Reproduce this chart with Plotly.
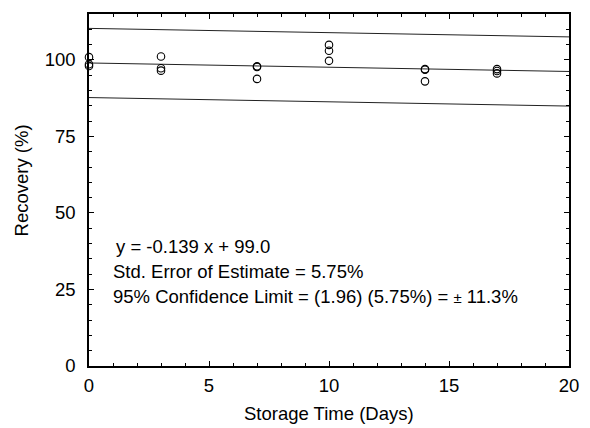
import plotly.graph_objects as go

# Data
days = [0, 0, 0, 3, 3, 3, 7, 7, 7, 10, 10, 10, 14, 14, 14, 17, 17, 17]
recovery = [100.9, 98.6, 98.0, 101.1, 97.3, 96.5, 97.9, 97.7, 93.8,
            104.9, 103.0, 99.7, 97.0, 96.8, 93.0, 97.0, 96.4, 95.6]
slope = -0.139
intercept = 99.0
conf_limit = 11.3
line_x = [0, 20]
x_ticks = [0, 5, 10, 15, 20]
y_ticks = [0, 25, 50, 75, 100]

fit_y = [slope * x + intercept for x in line_x]
upper_y = [v + conf_limit for v in fit_y]
lower_y = [v - conf_limit for v in fit_y]

FONT = "Liberation Sans, Arial, sans-serif"
fig = go.Figure()
for ys in (upper_y, fit_y, lower_y):
    fig.add_trace(go.Scatter(x=line_x, y=ys, mode="lines",
                             line=dict(color="#222222", width=1),
                             showlegend=False, hoverinfo="skip"))
fig.add_trace(go.Scatter(x=days, y=recovery, mode="markers",
                         marker=dict(symbol="circle-open", size=7.5, color="black",
                                     line=dict(width=1.1, color="black")),
                         cliponaxis=False, showlegend=False))

W, H = 590, 428
ml, mr, mt, mb = 89, 11, 14, 62
pw, ph = W - ml - mr, H - mt - mb

axis_common = dict(showgrid=False, zeroline=False, showline=True, linecolor="black",
                   linewidth=1.5, mirror="allticks", ticks="inside", ticklen=5,
                   tickwidth=1, tickcolor="black",
                   tickfont=dict(family=FONT, size=18.5, color="black"))
fig.update_xaxes(range=[0, 20], tickvals=x_ticks, ticklabelstandoff=2,
                 minor=dict(dtick=1, ticks="inside", ticklen=3, tickcolor="black", tickwidth=1),
                 **axis_common)
fig.update_yaxes(range=[0, 115], tickvals=y_ticks, ticklabelstandoff=8,
                 minor=dict(dtick=5, ticks="inside", ticklen=3, tickcolor="black", tickwidth=1),
                 **axis_common)

def px_x(px):
    return (px - ml) / pw

def px_y(py):
    return (H - mb - py) / ph

ann_font = dict(family=FONT, size=18.5, color="black")
texts = [
    ("y = -0.139 x + 99.0", 115, 247),
    ("Std. Error of Estimate = 5.75%", 111.5, 271),
    ("95% Confidence Limit = (1.96) (5.75%) = <span style='font-size:15px'>±</span> 11.3%", 111.5, 296),
]
for t, x, y in texts:
    fig.add_annotation(text=t, xref="paper", yref="paper", x=px_x(x), y=px_y(y),
                       xanchor="left", yanchor="middle", showarrow=False, font=ann_font)

fig.add_annotation(text="Recovery (%)", xref="paper", yref="paper", x=px_x(20), y=px_y(180),
                   xanchor="center", yanchor="middle", textangle=-90, showarrow=False, font=ann_font)
fig.add_annotation(text="Storage Time (Days)", xref="paper", yref="paper", x=px_x(334), y=px_y(413),
                   xanchor="center", yanchor="middle", showarrow=False, font=ann_font)

fig.update_layout(width=W, height=H, margin=dict(l=ml, r=mr, t=mt, b=mb),
                  plot_bgcolor="white", paper_bgcolor="white",
                  font=dict(family=FONT, size=18.5, color="black"))
fig.write_html("out.html")
